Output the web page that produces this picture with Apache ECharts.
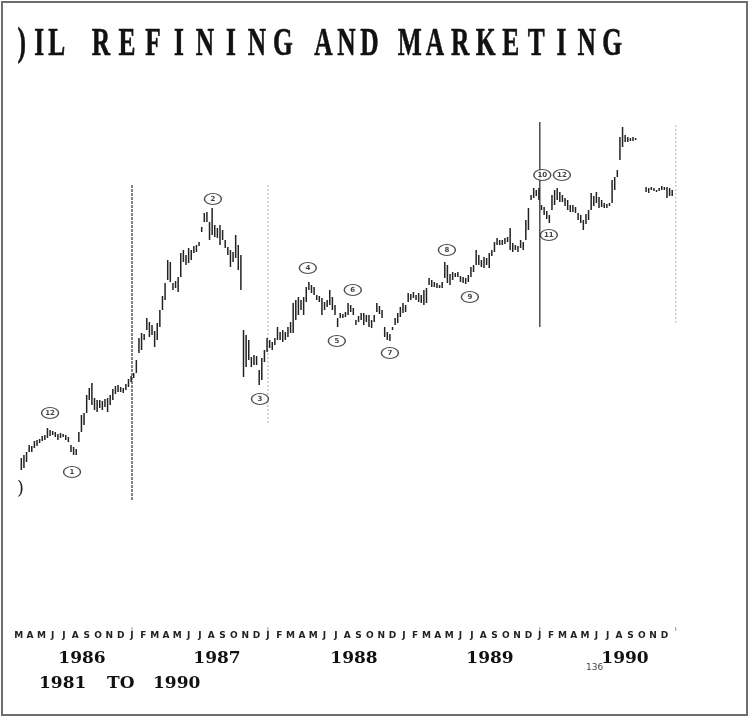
<!DOCTYPE html>
<html>
<head>
<meta charset="utf-8">
<script src="https://cdn.jsdelivr.net/npm/echarts@6/dist/echarts.min.js"></script>
<style>
html,body{margin:0;padding:0;background:#fff;}
#chart{width:750px;height:718px;}
</style>
</head>
<body>
<div id="chart"></div>
<script>
// ---- DATA ----
const titleWords = [')IL', 'REFINING', 'AND', 'MARKETING'];
const monthLetters = ['M','A','M','J','J','A','S','O','N','D',
  'J','F','M','A','M','J','J','A','S','O','N','D',
  'J','F','M','A','M','J','J','A','S','O','N','D',
  'J','F','M','A','M','J','J','A','S','O','N','D',
  'J','F','M','A','M','J','J','A','S','O','N','D'];
const yearLabels = ['1986','1987','1988','1989','1990'];
const startWeek = 1; // weeks counted from 1 March 1986
const highs = [
 32.4,33.0,33.6,35.0,34.8,35.8,36.0,36.2,36.8,37.0,38.4,38.0,37.8,37.6,37.2,37.4,37.2,37.0,36.6,35.0,
 34.6,34.2,37.6,41.0,41.4,45.0,46.4,47.4,44.4,44.0,44.0,43.8,44.2,44.4,45.0,46.2,46.8,47.0,46.6,46.4,
 47.2,48.2,48.8,49.4,52.0,56.4,57.4,57.2,60.4,59.6,59.0,57.8,59.4,62.0,64.8,67.4,72.0,71.6,67.4,67.8,
 68.6,73.4,74.0,73.0,74.4,74.0,74.8,75.0,75.6,78.6,81.4,81.6,79.6,82.4,79.0,78.4,79.0,78.0,76.0,74.6,
 74.0,73.6,77.0,75.0,73.0,58.0,57.0,56.0,52.6,53.0,52.8,50.0,52.4,54.0,56.4,56.0,55.6,56.4,58.6,57.6,
 58.0,57.6,58.6,59.6,63.4,64.0,64.6,64.0,64.6,66.6,67.6,67.0,66.6,65.0,64.8,64.4,63.6,64.0,66.0,64.6,
 63.0,60.4,61.4,61.2,61.6,63.4,63.0,62.4,60.0,60.8,61.4,61.4,61.0,61.0,60.0,61.0,63.4,62.8,62.0,58.6,
 57.6,57.2,58.6,60.4,61.4,62.6,63.4,63.0,65.4,65.2,65.6,65.0,65.4,65.0,66.0,66.4,68.4,68.0,67.6,67.4,
 67.0,67.6,71.6,71.0,69.2,69.6,69.4,69.6,68.8,68.6,68.4,69.0,70.6,71.0,74.0,73.0,72.0,72.6,72.4,73.4,
 74.0,75.6,76.4,76.0,76.0,76.4,76.6,78.4,75.4,75.0,74.8,76.0,75.6,80.0,82.4,85.0,86.4,86.0,86.4,83.0,
 82.6,81.8,81.0,85.0,86.0,86.4,85.6,85.0,84.4,84.0,83.0,83.0,82.6,81.4,81.0,80.0,81.2,82.0,85.4,84.8,
 85.6,84.6,84.0,83.4,83.2,83.4,88.0,88.6,90.0,96.6,98.6,97.0,96.6,96.4,96.6,96.4,null,null,null,86.6,
 86.4,86.6,86.4,86.0,86.4,86.8,86.6,86.6,86.4,86.0];
const lows = [
 30.0,30.4,31.6,33.6,33.6,34.4,34.8,35.4,35.8,36.0,36.4,36.8,37.0,36.6,36.0,36.4,36.6,36.0,35.6,33.6,
 33.0,33.0,35.6,37.6,39.0,41.4,44.0,43.0,42.0,41.6,42.4,42.0,42.6,41.6,43.0,44.0,45.2,45.6,45.6,45.4,
 46.0,46.6,47.6,48.4,49.4,53.4,54.0,56.0,58.0,56.6,57.0,54.6,56.0,58.6,62.0,64.0,68.0,67.6,66.0,66.4,
 65.6,68.6,71.6,71.0,71.4,72.0,73.4,73.6,74.8,77.6,79.6,79.6,76.0,77.0,76.6,76.4,75.0,76.0,74.4,73.0,
 70.6,71.6,72.4,70.0,66.0,48.6,50.6,52.0,50.6,51.0,51.0,47.0,48.0,51.6,53.6,54.4,54.0,55.0,56.0,56.0,
 55.6,56.0,56.6,57.4,57.4,60.0,61.0,62.0,61.0,63.6,66.0,65.4,65.0,64.0,63.6,61.0,62.0,62.6,63.0,62.0,
 61.0,58.6,60.4,60.4,60.6,61.0,61.6,61.0,59.0,59.6,60.0,59.0,59.6,58.6,58.4,59.6,61.6,61.2,60.4,56.6,
 56.0,55.8,58.0,59.0,59.4,60.6,61.4,61.6,63.6,64.0,64.4,64.0,63.6,63.4,63.0,63.4,67.0,66.6,66.6,66.4,
 66.4,66.4,68.4,67.4,67.0,68.0,68.6,68.6,67.6,67.4,67.2,67.6,68.6,69.6,71.0,71.0,70.6,70.4,71.0,70.4,
 72.8,73.6,75.0,75.0,75.0,75.2,75.6,74.0,73.6,74.0,73.6,74.4,74.0,76.0,78.0,84.0,84.4,84.8,84.0,82.0,
 81.0,80.2,79.4,82.0,83.0,84.0,83.6,83.6,82.8,82.0,81.6,81.6,81.4,80.0,79.4,78.0,79.2,80.0,82.0,82.8,
 83.4,82.4,82.6,82.4,82.4,82.8,83.4,86.0,88.6,92.0,94.6,95.6,95.6,95.8,95.8,96.0,null,null,null,85.6,
 85.4,86.0,85.8,85.6,85.8,86.0,86.0,84.4,84.8,84.8];
// wave-count annotations: [week, level, label]
const waveWeeks  = [12.0, 20.4, 74.3, 92.3, 110.6, 121.7, 127.8, 142.0, 163.8, 172.6, 200.3, 202.8, 207.8];
const waveLevels = [41.4, 29.6, 84.2, 44.2, 70.4, 55.8, 66.0, 53.4, 74.0, 64.6, 89.0, 77.0, 89.0];
const waveLabels = ['12','1','2','3','4','5','6','7','8','9','10','11','12'];
// year separators: month index (from Mar 1986), top & bottom level
const sepMonths  = [10, 22, 46, 58];
const sepTops    = [87.0, 87.0, 99.6, 99.0];
const sepBottoms = [24.0, 39.0, 58.6, 59.0];

// ---- BUILD ----
const wk2m = w => w * 12 / 52;
const barData = [];
highs.forEach((h, i) => {
  if (h != null && lows[i] != null) barData.push([wk2m(startWeek + i), h, lows[i]]);
});
const waveData = waveWeeks.map((w, i) => [wk2m(w), waveLevels[i], waveLabels[i]]);
const sepData = sepMonths.map((m, i) => [m, sepTops[i], sepBottoms[i], i]);
const sepStyles = [
  {stroke:'#666', lineWidth:1.6, lineDash:[3,1]},
  {stroke:'#b8b8b8', lineWidth:1.2, lineDash:[2,2]},
  {stroke:'#555', lineWidth:1.6},
  {stroke:'#c4c4c4', lineWidth:1.2, lineDash:[2,2]}
];

const chart = echarts.init(document.getElementById('chart'), null, {renderer:'canvas'});
const yearX = [82, 217, 354, 490, 625];
const graphic = [
  {type:'rect', shape:{x:2, y:2, width:745, height:713}, style:{fill:'none', stroke:'#6e6e6e', lineWidth:2}, silent:true},
  {type:'text', left:17, top:480, style:{text:')', font:'18px "DejaVu Serif"', fill:'#222'}},
  {type:'text', left:39, top:675, style:{text:'1981', font:'bold 17px "DejaVu Serif"', fill:'#111'}},
  {type:'text', left:107, top:675, style:{text:'TO', font:'bold 17px "DejaVu Serif"', fill:'#111'}},
  {type:'text', left:153, top:675, style:{text:'1990', font:'bold 17px "DejaVu Serif"', fill:'#111'}},
  {type:'text', left:586, top:663, style:{text:'136', font:'9px "DejaVu Sans"', fill:'#444'}}
];
// condensed, spaced title: each word laid out in fixed cells
const wordStart = [13, 88, 312, 397];
const wordPitch = [17.5, 26, 23, 25.3];
titleWords.forEach((w, wi) => {
  w.split('').forEach((ch, i) => {
    graphic.push({type:'text', x:wordStart[wi] + wordPitch[wi]*(i + 0.5), y:44, scaleX:0.62, scaleY:1,
      style:{text:ch, font:'bold 41px "Liberation Serif"', fill:'#111', stroke:'#111', lineWidth:0.6,
        align:'center', verticalAlign:'middle'}});
  });
});
yearLabels.forEach((y, i) => {
  graphic.push({type:'text', x:yearX[i], y:659, style:{text:y, font:'bold 17px "DejaVu Serif"', fill:'#111', align:'center', verticalAlign:'middle'}});
});

chart.setOption({
  animation:false,
  backgroundColor:'#fff',
  grid:{left:18.7, right:74.3, top:120, bottom:98},
  xAxis:{type:'value', min:0, max:58, interval:1,
    axisLine:{show:false}, axisTick:{show:false}, splitLine:{show:false},
    axisLabel:{margin:11, fontSize:9, fontWeight:'bold', fontFamily:'DejaVu Sans', color:'#222',
      formatter: v => (v < monthLetters.length ? monthLetters[v] : '')}},
  yAxis:{type:'value', min:0, max:100, show:false},
  graphic: graphic,
  series:[
    {type:'custom', data:sepData, encode:{x:0, y:[1,2]}, z:1, clip:false,
      renderItem:(params, api) => {
        const m = api.value(0);
        const p1 = api.coord([m, api.value(1)]);
        const p2 = api.coord([m, api.value(2)]);
        const base = api.coord([m, 0]);
        const st = sepStyles[api.value(3)];
        return {type:'group', children:[
          {type:'line', shape:{x1:p1[0], y1:p1[1], x2:p2[0], y2:p2[1]}, style:st},
          {type:'line', shape:{x1:base[0], y1:base[1]+7, x2:base[0], y2:base[1]+11}, style:{stroke:'#999', lineWidth:1}}
        ]};
      }},
    {type:'custom', data:barData, encode:{x:0, y:[1,2]}, z:2,
      renderItem:(params, api) => {
        const x = api.value(0);
        const p1 = api.coord([x, api.value(1)]);
        const p2 = api.coord([x, api.value(2)]);
        return {type:'rect', shape:{x:p1[0]-0.75, y:p1[1], width:1.5, height:Math.max(2, p2[1]-p1[1])},
          style:{fill:'#222'}};
      }},
    {type:'scatter', data:waveData, z:3, symbol:'circle', symbolSize:[17,11],
      itemStyle:{color:'#fff', borderColor:'#222', borderWidth:1.2},
      label:{show:true, position:'inside', formatter: p => p.value[2], fontSize:7, fontWeight:'bold', color:'#111', fontFamily:'DejaVu Sans'}}
  ]
});
</script>
</body>
</html>
